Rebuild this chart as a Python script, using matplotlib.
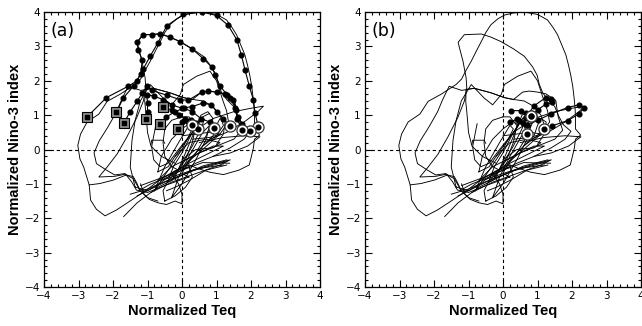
import matplotlib
matplotlib.use("Agg")
import matplotlib.pyplot as plt
from matplotlib.ticker import MultipleLocator

# ---- background trajectory (normalized Teq, normalized Nino-3), shared by both panels
bg_tall = [(0.2, -0.45), (-0.2, -0.62), (-0.6, -0.85), (-1.03, -1.18), (-1.46, -1.47), (-1.9, -1.76),
           (-2.23, -1.93), (-2.48, -1.74), (-2.65, -1.47), (-2.69, -1.03), (-2.85, -0.51), (-2.96, -0.27),
           (-3.02, 0.12), (-2.94, 0.45), (-2.75, 0.8), (-2.41, 1.03), (-2.17, 1.4), (-1.79, 1.61),
           (-1.5, 1.8), (-1.36, 1.89), (-1.2, 2.05), (-1.1, 2.25), (-0.92, 2.57), (-0.78, 2.85),
           (-0.63, 3.14), (-0.5, 3.4), (-0.35, 3.63), (-0.15, 3.8), (0.04, 3.91), (0.3, 3.97),
           (0.6, 4.0), (1.0, 3.93), (1.29, 3.77), (1.45, 3.55), (1.58, 3.34), (1.7, 3.05), (1.82, 2.76),
           (1.9, 2.45), (1.96, 2.18), (2.02, 1.85), (2.06, 1.51), (2.09, 1.2), (2.1, 0.93), (2.1, 0.6),
           (2.25, 0.42), (2.1, 0.3), (2.07, 0.05), (2.0, -0.25), (1.95, -0.45), (1.65, -0.6),
           (1.2, -0.73), (0.8, -0.66), (0.45, -0.55), (0.2, -0.45)]
bg_second = [(0.1, -0.55), (-0.4, -0.8), (-0.9, -1.0), (-1.22, -1.18), (-1.41, -0.85), (-1.65, -0.72),
             (-1.95, -0.78), (-2.41, -0.8), (-2.17, -0.51), (-1.88, -0.13), (-1.6, 0.36), (-1.31, 0.93),
             (-1.12, 1.41), (-1.05, 1.8), (-1.07, 2.09), (-1.16, 2.57), (-1.26, 2.95), (-1.3, 3.12),
             (-1.12, 3.34), (-0.88, 3.35), (-0.63, 3.36), (-0.35, 3.27), (-0.06, 3.14), (0.3, 2.93),
             (0.62, 2.71), (0.86, 2.4), (0.99, 2.16), (1.05, 1.9), (1.15, 1.65), (1.3, 1.45), (1.5, 1.25),
             (1.6, 1.0), (1.75, 0.72), (1.97, 0.53), (1.8, 0.3), (1.4, 0.05), (0.9, -0.2), (0.4, -0.4),
             (0.1, -0.55)]
bg_mid = [(0.2, -0.8), (-0.5, -1.05), (-1.0, -1.25), (-1.32, -1.18), (-1.46, -0.94), (-1.65, -0.7),
          (-1.95, -0.74), (-2.19, -0.6), (-2.48, -0.41), (-2.55, -0.1), (-2.4, 0.25), (-2.15, 0.65),
          (-1.9, 1.09), (-1.75, 1.45), (-1.56, 1.84), (-1.2, 1.72), (-0.83, 1.78), (-0.35, 1.65),
          (0.04, 1.51), (0.35, 1.45), (0.62, 1.41), (0.9, 1.25), (1.1, 1.0), (1.2, 0.7), (1.0, 0.4),
          (0.6, 0.1), (0.2, -0.3), (0.0, -0.7), (0.2, -0.8)]
bg_bottom = [(-2.69, -1.03), (-2.38, -0.99), (-1.99, -0.89), (-1.61, -0.74), (-1.41, -0.79),
             (-1.3, -1.0), (-1.22, -1.2), (-1.0, -1.4), (-0.7, -1.5)]
bg_peak2 = [(-1.36, -1.09), (-1.5, -0.51), (-1.45, 0.26), (-1.36, 0.84), (-1.21, 1.41), (-0.92, 1.89),
            (-0.55, 1.5), (-0.3, 1.3), (-0.05, 1.6), (0.04, 1.89), (0.42, 2.13), (0.81, 2.28),
            (1.0, 2.0), (1.19, 1.41), (1.29, 1.13), (1.35, 0.8), (1.1, 0.45), (0.6, 0.0), (0.0, -0.5),
            (-0.6, -0.95), (-1.0, -1.2), (-1.36, -1.09)]
bg_level17 = [(-0.2, -0.4), (-0.6, -0.2), (-0.9, 0.1), (-1.0, 0.5), (-1.03, 0.88), (-1.05, 1.1),
              (-1.08, 1.4), (-1.07, 1.75), (-0.83, 1.78), (-0.35, 1.65), (0.04, 1.51), (0.3, 1.45),
              (0.57, 1.67), (0.76, 1.7), (1.0, 1.67), (1.24, 1.62), (1.53, 1.43), (1.57, 1.14),
              (1.6, 0.95), (1.73, 0.56), (1.5, 0.3), (1.0, 0.1), (0.5, -0.1), (0.0, -0.35)]
bg_c1 = [(-0.3, -0.9), (0.0, -0.4), (0.3, 0.1), (0.55, 0.6), (0.65, 0.88), (0.5, 0.8), (0.25, 0.4),
         (0.0, -0.1), (-0.25, -0.5), (-0.42, -0.95), (-0.3, -0.9)]
bg_c2 = [(-0.7, -0.65), (-0.6, -0.2), (-0.3, 0.3), (0.0, 0.6), (0.3, 0.82), (0.45, 0.7), (0.2, 0.35),
         (-0.1, -0.05), (-0.4, -0.5), (-0.7, -0.65)]
bg_c3 = [(-0.5, -0.8), (0.2, -0.4), (0.8, -0.1), (1.2, 0.1), (0.9, 0.1), (0.3, -0.2), (-0.3, -0.5),
         (-0.7, -0.9)]
bg_c4 = [(-0.6, -0.9), (0.3, -0.6), (1.0, -0.4), (1.4, -0.3), (1.1, -0.45), (0.4, -0.7), (-0.3, -0.95),
         (-0.9, -1.25)]
bg_c5 = [(-0.2, -0.2), (0.2, 0.2), (0.7, 0.3), (1.1, 0.2), (0.9, 0.05), (0.4, 0.0), (0.0, -0.3)]
bg_c6 = [(0.0, 0.95), (-0.3, 0.85), (-0.5, 0.6), (-0.55, 0.2), (-0.5, -0.2), (-0.3, -0.5), (-0.1, -0.6),
         (0.1, -0.3), (0.3, 0.2), (0.4, 0.7), (0.2, 0.95), (0.0, 0.95)]
bg_c7 = [(-0.75, 0.75), (-0.8, 0.5), (-0.88, 0.08), (-0.82, -0.3), (-0.64, -0.5), (-0.4, -0.4),
         (-0.1, 0.0), (0.3, 0.5), (0.6, 0.95), (0.8, 1.05)]
bg_c8 = [(-0.9, 0.15), (-0.88, 0.27), (-0.55, 0.27), (-0.5, 0.18)]
bg_c9 = [(-1.2, -1.0), (-1.1, -1.3), (-0.95, -1.45), (-0.7, -1.55), (-0.45, -1.6), (-0.2, -1.5),
         (0.0, -1.58), (0.0, -1.3), (-0.1, -1.0), (-0.3, -0.7)]
bg_c10 = [(-0.5, -1.5), (-0.55, -1.2), (-0.4, -0.9), (-0.1, -0.6), (0.2, -0.5), (0.3, -0.8),
          (0.1, -1.1), (-0.2, -1.35), (-0.5, -1.5)]
bg_c11 = [(-0.2, -0.8), (0.1, -0.1), (0.35, 0.5), (0.55, 1.0), (0.75, 1.1), (0.9, 0.9), (0.7, 0.4),
          (0.4, -0.1), (0.1, -0.5)]
bg_c12 = [(0.6, 0.1), (0.9, 0.4), (1.0, 0.7), (1.1, 0.9), (1.25, 0.8), (1.2, 0.45), (1.0, 0.15)]
bg_c13 = [(-0.8, -1.2), (-0.4, -0.6), (0.0, 0.0), (0.3, 0.6), (0.2, 0.7), (-0.1, 0.2), (-0.5, -0.5),
          (-0.8, -1.2)]
bg_c14 = [(-0.3, -1.4), (-0.1, -0.8), (0.2, -0.2), (0.6, 0.5), (0.8, 0.7), (0.7, 0.3), (0.4, -0.3),
          (0.0, -1.0), (-0.3, -1.4)]
bg_c15 = [(0.0, 0.4), (0.4, 0.45), (0.8, 0.5), (1.1, 0.45), (0.8, 0.35), (0.3, 0.3)]
bg_c16 = [(-0.45, -1.2), (-0.2, -1.1), (0.2, -0.9), (0.7, -0.6), (1.3, -0.45)]
bg_d1 = [(-1.69, -1.95), (-1.3, -1.55), (-0.7, -1.1), (0.0, -0.75), (0.6, -0.48), (1.3, -0.3)]
bg_d2 = [(-1.3, -1.35), (-0.5, -0.95), (0.3, -0.62), (1.25, -0.36)]
bg_d3 = [(-1.2, -1.05), (-0.4, -0.75), (0.6, -0.38), (1.38, -0.4)]
bg_d4 = [(-1.5, -1.3), (-1.0, -1.15), (-0.3, -0.85), (0.5, -0.55), (1.2, -0.45)]
bg_lobe_a = [(0.3, 0.5), (0.9, 0.9), (1.5, 1.1), (2.0, 1.2), (2.36, 1.26), (2.2, 1.1), (1.8, 0.8),
             (1.3, 0.5), (0.8, 0.3)]
bg_lobe_b = [(0.5, 0.2), (1.2, 0.35), (1.8, 0.4), (2.26, 0.37), (1.9, 0.1), (1.4, -0.1), (0.9, -0.2)]

background = [bg_tall, bg_second, bg_mid, bg_bottom, bg_peak2, bg_level17, bg_c1, bg_c2, bg_c3,
              bg_c4, bg_c5, bg_c6, bg_c7, bg_c8, bg_c9, bg_c10, bg_c11, bg_c12, bg_c13, bg_c14,
              bg_c15, bg_c16, bg_d1, bg_d2, bg_d3, bg_d4, bg_lobe_a, bg_lobe_b]

# ---- panel (a): highlighted tracks, square = start, circle = end
track_a1 = [(-2.75, 0.95), (-2.19, 1.51), (-1.56, 1.84), (-1.3, 2.0), (-1.12, 2.35), (-0.92, 2.72),
            (-0.7, 3.1), (-0.44, 3.6), (0.04, 3.93), (0.57, 4.0), (1.0, 3.9), (1.34, 3.61), (1.59, 3.19),
            (1.72, 2.75), (1.83, 2.3), (1.95, 1.85), (2.07, 1.44), (2.12, 1.05), (2.21, 0.66)]
track_a2 = [(-1.9, 1.09), (-1.7, 1.5), (-1.4, 1.85), (-1.2, 2.2), (-1.15, 2.6), (-1.27, 2.9),
            (-1.3, 3.12), (-1.14, 3.34), (-0.88, 3.34), (-0.64, 3.37), (-0.35, 3.27), (-0.06, 3.14),
            (0.3, 2.92), (0.62, 2.64), (0.86, 2.4), (0.97, 2.16), (1.1, 1.85), (1.3, 1.6), (1.49, 1.43),
            (1.57, 1.14), (1.61, 0.95), (1.75, 0.75), (1.97, 0.54)]
track_a3 = [(-1.68, 0.78), (-1.5, 1.1), (-1.3, 1.4), (-1.15, 1.65), (-1.02, 1.84), (-0.88, 1.72),
            (-0.44, 1.58), (-0.06, 1.45), (0.18, 1.43), (0.57, 1.67), (0.76, 1.7), (1.0, 1.67),
            (1.24, 1.62), (1.4, 1.5), (1.55, 1.2), (1.6, 0.9), (1.73, 0.58)]
track_a4 = [(-1.03, 0.88), (-1.0, 1.1), (-1.0, 1.35), (-1.02, 1.6), (-0.8, 1.55), (-0.55, 1.45),
            (-0.3, 1.3), (0.0, 1.2), (0.3, 1.25), (0.6, 1.35), (0.85, 1.3), (1.0, 1.1), (1.2, 0.9),
            (1.39, 0.68)]
track_a5 = [(-0.64, 0.74), (-0.45, 0.95), (-0.2, 1.1), (0.05, 1.2), (0.3, 1.1), (0.55, 0.9),
            (0.8, 0.8), (0.93, 0.63)]
track_a6 = [(-0.54, 1.24), (-0.3, 1.15), (-0.1, 1.0), (0.1, 0.9), (0.25, 0.85), (0.4, 0.78),
            (0.47, 0.61)]
track_a7 = [(-0.13, 0.61), (0.0, 0.8), (0.15, 0.82), (0.28, 0.72)]
tracks_a = [track_a1, track_a2, track_a3, track_a4, track_a5, track_a6, track_a7]

# ---- panel (b): short highlighted tracks
track_b1 = [(0.23, 1.13), (0.52, 1.13), (0.66, 1.05), (0.81, 0.98)]
track_b2 = [(0.47, 0.84), (0.66, 0.93), (0.9, 1.27), (1.24, 1.51), (1.38, 1.46), (1.43, 1.37),
            (1.24, 1.32), (1.0, 1.15), (0.81, 0.98)]
track_b3 = [(0.7, 0.7), (1.0, 0.85), (1.38, 1.03), (1.87, 1.22), (2.2, 1.3), (2.35, 1.22), (2.2, 1.03),
            (1.87, 0.84), (1.43, 0.69), (1.19, 0.6)]
track_b4 = [(0.2, 0.8), (0.4, 0.88), (0.57, 0.78), (0.71, 0.45)]
tracks_b = [track_b1, track_b2, track_b3, track_b4]

ticks = [-4, -3, -2, -1, 0, 1, 2, 3, 4]
tick_labels = ["\u22124", "\u22123", "\u22122", "\u22121", "0", "1", "2", "3", "4"]

label_font = ["Liberation Sans", "DejaVu Sans"]


def draw_panel(ax, tracks, squares, letter):
    ax.axhline(0, color="black", lw=0.8, ls=(0, (3, 2.5)), zorder=1)
    ax.axvline(0, color="black", lw=0.8, ls=(0, (3, 2.5)), zorder=1)
    for seg in background:
        xs, ys = zip(*seg)
        ax.plot(xs, ys, color="black", lw=0.65, zorder=2)
    for tr in tracks:
        xs, ys = zip(*tr)
        ax.plot(xs, ys, color="black", lw=0.8, marker="o", ms=3.4, mfc="black", mec="black", zorder=3)
        # end of event: open circle with dot
        ax.plot(xs[-1], ys[-1], marker="o", ms=8, mfc="white", mec="#333333", mew=0.9, zorder=4)
        ax.plot(xs[-1], ys[-1], marker="o", ms=3.4, color="black", zorder=5)
        if squares:
            ax.plot(xs[0], ys[0], marker="s", ms=7.5, mfc="#8c8c8c", mec="black", mew=0.8, zorder=4)
            ax.plot(xs[0], ys[0], marker="s", ms=3.5, color="black", zorder=5)
    ax.set_xlim(-4, 4)
    ax.set_ylim(-4, 4)
    ax.set_xticks(ticks)
    ax.set_yticks(ticks)
    ax.set_xticklabels(tick_labels, fontsize=7.5)
    ax.set_yticklabels(tick_labels, fontsize=7.5)
    ax.xaxis.set_minor_locator(MultipleLocator(0.2))
    ax.yaxis.set_minor_locator(MultipleLocator(0.2))
    ax.tick_params(which="both", direction="in", top=True, right=True, width=0.8)
    ax.tick_params(which="major", length=5, pad=3)
    ax.tick_params(which="minor", length=2.5)
    for sp in ax.spines.values():
        sp.set_linewidth(0.9)
    ax.set_xlabel("Normalized Teq", fontsize=10.5, fontweight="bold", family=label_font)
    ax.set_ylabel("Normalized Nino-3 index", fontsize=10.5, fontweight="bold", family=label_font)
    ax.xaxis.set_label_coords(0.5, -0.062)
    ax.yaxis.set_label_coords(-0.08, 0.5)
    ax.text(-3.82, 3.45, letter, fontsize=12.5, ha="left", va="center")


fig = plt.figure(figsize=(6.42, 3.26), dpi=100)
ax_a = fig.add_axes([44 / 642, 39 / 326, 276 / 642, 275 / 326])
ax_b = fig.add_axes([365 / 642, 39 / 326, 276 / 642, 275 / 326])
draw_panel(ax_a, tracks_a, True, "(a)")
draw_panel(ax_b, tracks_b, False, "(b)")
fig.savefig("out.png", dpi=100)
